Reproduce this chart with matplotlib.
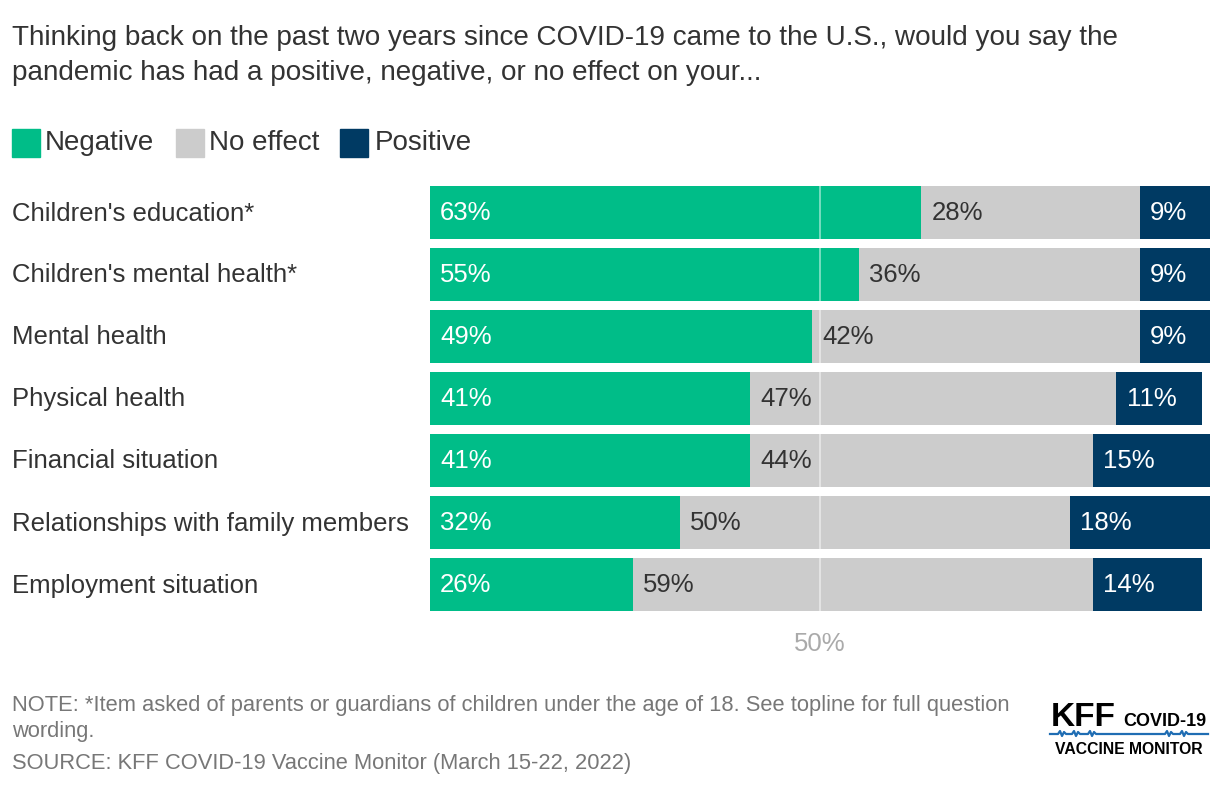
import matplotlib
matplotlib.use("Agg")
import matplotlib.pyplot as plt
from matplotlib.patches import Rectangle
from matplotlib.lines import Line2D

plt.rcParams["font.family"] = ["Liberation Sans", "DejaVu Sans"]

GREEN = "#00bd88"
GRAY = "#cccccc"
NAVY = "#003a63"
TEXT = "#333333"
MUTED = "#777777"

categories = [
    "Children's education*",
    "Children's mental health*",
    "Mental health",
    "Physical health",
    "Financial situation",
    "Relationships with family members",
    "Employment situation",
]
negative = [63, 55, 49, 41, 41, 32, 26]
no_effect = [28, 36, 42, 47, 44, 50, 59]
positive = [9, 9, 9, 11, 15, 18, 14]

W, H = 1220, 788
fig = plt.figure(figsize=(W / 100, H / 100), dpi=100)
ax = fig.add_axes([430 / W, 1 - 615.5 / H, 780 / W, 434 / H])

y = list(range(len(categories)))
bh = 0.86
ax.barh(y, negative, height=bh, color=GREEN, zorder=2)
ax.barh(y, no_effect, left=negative, height=bh, color=GRAY, zorder=2)
left_pos = [n + e for n, e in zip(negative, no_effect)]
ax.barh(y, positive, left=left_pos, height=bh, color=NAVY, zorder=2)

ax.axvline(50, color="white", alpha=0.55, lw=1.2, zorder=3)

fs = 18.5
pad = 1.3
for i in y:
    ax.text(pad, i, f"{negative[i]}%", color="white", va="center", ha="left", fontsize=fs, zorder=4)
    ax.text(negative[i] + pad, i, f"{no_effect[i]}%", color=TEXT, va="center", ha="left", fontsize=fs, zorder=4)
    ax.text(left_pos[i] + pad, i, f"{positive[i]}%", color="white", va="center", ha="left", fontsize=fs, zorder=4)
    fig.text(12 / W, 1 - (213.5 + 62 * i) / H, categories[i], color=TEXT, va="center", ha="left", fontsize=fs)

ax.set_xlim(0, 100)
ax.set_ylim(len(categories) - 0.5, -0.5)
ax.set_yticks([])
ax.set_xticks([50])
ax.set_xticklabels(["50%"])
ax.tick_params(axis="x", length=0, labelsize=fs, labelcolor="#aaaaaa", pad=12)
for s in ax.spines.values():
    s.set_visible(False)

# title
fig.text(12 / W, 1 - 38 / H, "Thinking back on the past two years since COVID-19 came to the U.S., would you say the",
         color=TEXT, va="center", ha="left", fontsize=20.1)
fig.text(12 / W, 1 - 73 / H, "pandemic has had a positive, negative, or no effect on your...",
         color=TEXT, va="center", ha="left", fontsize=20.1)

# legend
legend_items = [("Negative", GREEN, 12, 45), ("No effect", GRAY, 176, 209), ("Positive", NAVY, 340, 375)]
for label, col, x0, xt in legend_items:
    fig.patches.append(Rectangle((x0 / W, 1 - 157 / H), 28 / W, 28 / H, transform=fig.transFigure,
                                 color=col, figure=fig))
    fig.text(xt / W, 1 - 143 / H, label, color=TEXT, va="center", ha="left", fontsize=20)

# notes
nfs = 15.75
fig.text(12 / W, 1 - 705 / H,
         "NOTE: *Item asked of parents or guardians of children under the age of 18. See topline for full question",
         color=MUTED, va="center", ha="left", fontsize=nfs)
fig.text(12 / W, 1 - 731 / H, "wording.", color=MUTED, va="center", ha="left", fontsize=nfs)
fig.text(12 / W, 1 - 763 / H, "SOURCE: KFF COVID-19 Vaccine Monitor (March 15-22, 2022)",
         color=MUTED, va="center", ha="left", fontsize=nfs)

# logo
fig.text(1051 / W, 1 - 718 / H, "KFF", color="black", fontweight="bold", va="center", ha="left", fontsize=24)
fig.text(1206 / W, 1 - 721 / H, "COVID-19", color="black", fontweight="bold", va="center", ha="right",
         fontsize=13)
lx = [1050, 1058, 1060, 1062, 1064, 1066, 1072, 1074, 1076, 1078, 1080, 1088, 1090, 1092, 1094, 1096,
      1165, 1167, 1169, 1171, 1173, 1180, 1182, 1184, 1186, 1188, 1208]
ly = [734, 734, 731, 736, 732, 734, 734, 731, 736, 732, 734, 734, 731, 736, 732, 734,
      734, 731, 736, 732, 734, 734, 731, 736, 732, 734, 734]
fig.lines.append(Line2D([v / W for v in lx], [1 - v / H for v in ly], transform=fig.transFigure,
                        color="#1f6db3", lw=1.6, figure=fig))
fig.text(1129 / W, 1 - 749 / H, "VACCINE MONITOR", color="black", fontweight="bold", va="center", ha="center",
         fontsize=11.3)

fig.savefig("out.png", dpi=100)
